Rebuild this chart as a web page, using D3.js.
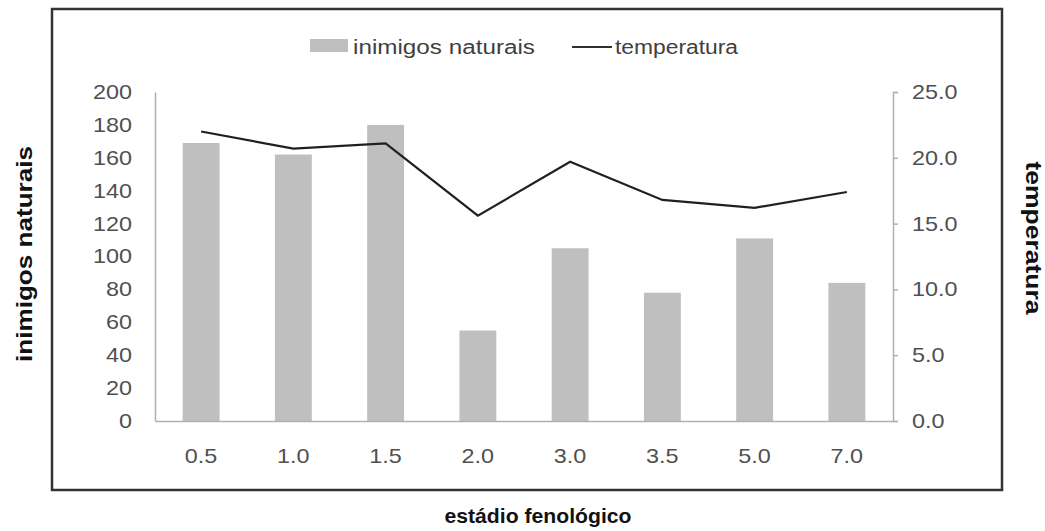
<!DOCTYPE html>
<html><head><meta charset="utf-8">
<script src="https://cdn.jsdelivr.net/npm/d3@7"></script>
<style>
html,body{margin:0;padding:0;background:#fff;}
text{font-family:"Liberation Sans",Arial,sans-serif;}
</style></head>
<body>
<svg id="c" width="1045" height="531"></svg>
<script>
const categories = ["0.5","1.0","1.5","2.0","3.0","3.5","5.0","7.0"];
const inimigos = [169, 162, 180, 55, 105, 78, 111, 84];
const temperatura = [22.0, 20.7, 21.1, 15.6, 19.7, 16.8, 16.2, 17.4];
const leftTicks = [0,20,40,60,80,100,120,140,160,180,200];
const rightTicks = [0,5,10,15,20,25];

const svg = d3.select("#c");
const m = {l:155, r:893, t:92, b:421};
const FS = 20, SX = 1.17;

svg.append("rect").attr("x",52).attr("y",9).attr("width",950).attr("height",481)
  .attr("fill","#fff").attr("stroke","#333").attr("stroke-width",2.5);

const x = d3.scaleBand().domain(categories).range([m.l,m.r]).paddingInner(0.6).paddingOuter(0.3);
const yL = d3.scaleLinear().domain([0,200]).range([m.b,m.t]);
const yR = d3.scaleLinear().domain([0,25]).range([m.b,m.t]);

// bars
svg.append("g").selectAll("rect").data(categories).join("rect")
  .attr("x",d=>x(d)).attr("width",x.bandwidth())
  .attr("y",(d,i)=>yL(inimigos[i])).attr("height",(d,i)=>m.b-yL(inimigos[i]))
  .attr("fill","#bfbfbf");

function styleTicks(g){
  g.selectAll("text").attr("font-size",FS).attr("fill","#505050")
    .attr("font-family","Liberation Sans, Arial, sans-serif")
    .each(function(){
      const t = d3.select(this);
      const xv = +t.attr("x") || 0;
      t.attr("x", xv/SX).attr("transform",`scale(${SX},1)`);
    });
}

// left axis
const gL = svg.append("g").attr("transform",`translate(${m.l},0)`)
  .call(d3.axisLeft(yL).tickValues(leftTicks).tickFormat(d3.format("d")).tickSize(0).tickPadding(23));
gL.select(".domain").attr("stroke","#b0b0b0").attr("stroke-width",1.5);
styleTicks(gL);

// right axis
const gR = svg.append("g").attr("transform",`translate(${m.r},0)`)
  .call(d3.axisRight(yR).tickValues(rightTicks).tickFormat(d3.format(".1f")).tickSizeInner(5).tickSizeOuter(5).tickPadding(14));
gR.select(".domain").attr("stroke","#b0b0b0").attr("stroke-width",1.5);
gR.selectAll(".tick line").attr("stroke","#b0b0b0").attr("stroke-width",1.5);
styleTicks(gR);

// bottom axis
const gB = svg.append("g").attr("transform",`translate(0,${m.b})`)
  .call(d3.axisBottom(x).tickSize(0).tickPadding(28));
gB.select(".domain").attr("stroke","#b0b0b0").attr("stroke-width",1.5);
styleTicks(gB);

// line
const line = d3.line().x((d,i)=>x(categories[i])+x.bandwidth()/2).y(d=>yR(d));
svg.append("path").datum(temperatura).attr("d",line)
  .attr("fill","none").attr("stroke","#202020").attr("stroke-width",2.2);

// legend
svg.append("rect").attr("x",310).attr("y",39).attr("width",38).attr("height",13).attr("fill","#bfbfbf");
svg.append("text").attr("x",353).attr("y",54).attr("font-size",FS).attr("fill","#404040")
  .attr("textLength",182).attr("lengthAdjust","spacingAndGlyphs").text("inimigos naturais");
svg.append("line").attr("x1",572).attr("x2",612).attr("y1",47).attr("y2",47).attr("stroke","#303030").attr("stroke-width",2.2);
svg.append("text").attr("x",615).attr("y",54).attr("font-size",FS).attr("fill","#404040")
  .attr("textLength",123).attr("lengthAdjust","spacingAndGlyphs").text("temperatura");

// titles
svg.append("text").attr("x",538).attr("y",523).attr("text-anchor","middle")
  .attr("font-size",21).attr("font-weight","bold").attr("fill","#111")
  .attr("textLength",187).attr("lengthAdjust","spacingAndGlyphs").text("estádio fenológico");
svg.append("text").attr("transform","translate(32,254) rotate(-90)").attr("text-anchor","middle")
  .attr("font-size",22).attr("font-weight","bold").attr("fill","#111")
  .attr("textLength",216).attr("lengthAdjust","spacingAndGlyphs").text("inimigos naturais");
svg.append("text").attr("transform","translate(1026,238) rotate(90)").attr("text-anchor","middle")
  .attr("font-size",22).attr("font-weight","bold").attr("fill","#111")
  .attr("textLength",153).attr("lengthAdjust","spacingAndGlyphs").text("temperatura");
</script>
</body></html>
